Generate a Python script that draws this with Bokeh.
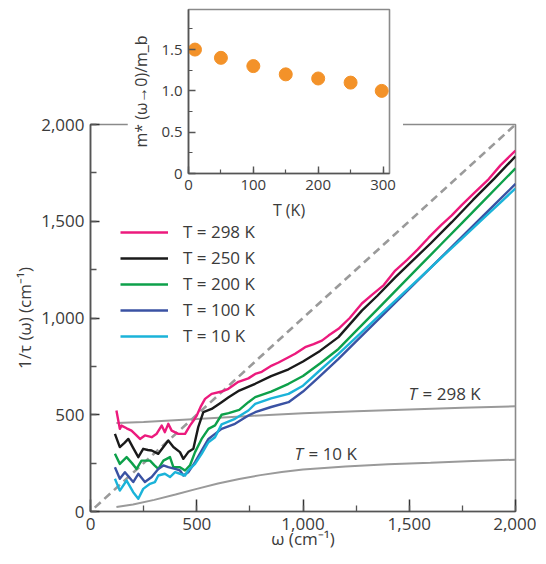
from bokeh.plotting import figure
from bokeh.models import (Legend, LegendItem, Label, SingleIntervalTicker,
                          NumeralTickFormatter, Range1d, FixedTicker, Column)
from bokeh.embed import file_html
from bokeh.resources import INLINE

# ---------------- data ----------------
w298 = [122, 138, 146, 170, 193, 215, 233, 256, 288, 310, 335, 350, 366, 382, 413, 445, 468, 485, 500, 520,
        539, 570, 617, 649, 696, 743, 775, 806, 853, 885, 932, 963, 1010, 1050, 1089, 1120, 1167, 1220, 1277, 1330,
        1380, 1434, 1490, 1540, 1591, 1650, 1700, 1748, 1800, 1874, 1930, 2000]
v298 = [522, 427, 444, 430, 418, 395, 375, 393, 384, 400, 444, 410, 453, 418, 401, 401, 444, 470, 496, 545,
        582, 608, 620, 634, 670, 688, 711, 722, 754, 770, 797, 815, 849, 865, 883, 909, 944, 1000, 1075, 1125,
        1170, 1245, 1300, 1355, 1415, 1480, 1530, 1585, 1640, 1718, 1790, 1865]

w250 = [115, 138, 160, 178, 200, 225, 248, 270, 288, 319, 343, 366, 390, 421, 437, 460, 484, 507, 531, 570,
        617, 650, 700, 775, 850, 932, 1000, 1080, 1167, 1277, 1350, 1434, 1500, 1600, 1700, 1800, 1900, 2000]
v250 = [401, 333, 355, 375, 330, 281, 324, 318, 315, 298, 333, 367, 333, 307, 272, 307, 324, 436, 513, 530,
        565, 590, 625, 660, 700, 735, 775, 830, 901, 1038, 1115, 1210, 1280, 1385, 1495, 1610, 1720, 1836]

w200 = [115, 138, 170, 195, 217, 240, 280, 300, 319, 343, 374, 390, 421, 445, 468, 492, 523, 555, 586, 617,
        650, 700, 743, 775, 850, 932, 1000, 1080, 1167, 1250, 1350, 1450, 1550, 1650, 1750, 1850, 1930, 2000]
v200 = [298, 246, 281, 250, 220, 263, 263, 240, 220, 263, 281, 229, 229, 212, 238, 307, 375, 427, 445, 500,
        508, 525, 565, 591, 620, 660, 700, 765, 840, 933, 1045, 1157, 1269, 1381, 1493, 1605, 1695, 1774]

w100 = [115, 138, 162, 201, 225, 256, 288, 319, 343, 366, 398, 421, 437, 460, 492, 523, 555, 586, 617, 680,
        743, 775, 850, 932, 1000, 1080, 1167, 1250, 1350, 1450, 1550, 1650, 1750, 1850, 1930, 2000]
v100 = [229, 169, 203, 152, 195, 152, 178, 220, 238, 229, 220, 212, 186, 203, 255, 315, 375, 401, 427, 453,
        496, 513, 540, 565, 620, 700, 789, 879, 988, 1096, 1205, 1313, 1422, 1530, 1617, 1693]

w10 = [115, 138, 170, 201, 225, 248, 280, 303, 319, 350, 374, 398, 421, 445, 460, 492, 523, 555, 586, 617,
       680, 743, 775, 850, 932, 1000, 1080, 1167, 1250, 1350, 1450, 1550, 1650, 1750, 1850, 1930, 2000]
v10 = [169, 108, 160, 100, 66, 117, 143, 152, 186, 195, 178, 203, 195, 186, 212, 246, 298, 358, 384, 450,
       479, 522, 556, 585, 608, 650, 730, 815, 900, 1003, 1105, 1208, 1311, 1413, 1516, 1598, 1670]

# model curves
wm298 = [122, 250, 500, 750, 1000, 1250, 1500, 1750, 2000]
vm298 = [458, 463, 478, 494, 508, 518, 527, 536, 544]
wm10 = [122, 200, 300, 400, 500, 600, 700, 800, 900, 1000, 1200, 1400, 1600, 1800, 2000]
vm10 = [23, 36, 60, 88, 117, 145, 168, 188, 204, 217, 233, 244, 252, 261, 268]

# dashed y = x reference
wdash = [20, 2000]
vdash = [20, 2000]

series_labels = ["T = 298 K", "T = 250 K", "T = 200 K", "T = 100 K", "T = 10 K"]
series_colors = ["#ec1a7d", "#1a1a1a", "#0da04a", "#3a52a3", "#1bb3d9"]

# inset data
T_inset = [10, 50, 100, 150, 200, 250, 298]
m_inset = [1.5, 1.4, 1.3, 1.2, 1.15, 1.1, 1.0]

FONT = "Open Sans"
TXT = "#3b3b3b"
AX = "#555555"
OUT = "#8a8a8a"

# ---------------- main figure ----------------
p = figure(frame_width=425, frame_height=387, x_range=Range1d(0, 2000), y_range=Range1d(0, 2000),
           output_backend="svg", toolbar_location=None, frame_align=False,
           min_border_left=90, min_border_right=21, min_border_top=124, min_border_bottom=43)
p.grid.visible = False
p.outline_line_color = OUT
p.outline_line_width = 1.6
p.background_fill_color = "white"
p.border_fill_color = "white"

for ax in (p.xaxis[0], p.yaxis[0]):
    ax.ticker = SingleIntervalTicker(interval=500, num_minor_ticks=2)
    ax.formatter = NumeralTickFormatter(format="0,0")
    ax.axis_line_color = AX
    ax.axis_line_width = 1.6
    ax.major_tick_line_color = "#333333"
    ax.minor_tick_line_color = AX
    ax.major_tick_line_width = 1.5
    ax.minor_tick_line_width = 1.3
    ax.major_tick_out = 0
    ax.minor_tick_out = 0
    ax.major_label_text_font = FONT
    ax.major_label_text_font_size = "17px"
    ax.major_label_text_color = TXT
    ax.axis_label_text_font = FONT
    ax.axis_label_text_font_size = "17px"
    ax.axis_label_text_color = TXT
    ax.axis_label_text_font_style = "normal"
    ax.major_label_standoff = 6

p.xaxis.major_tick_in = 12
p.xaxis.minor_tick_in = 6
p.yaxis.major_tick_in = 9
p.yaxis.minor_tick_in = 6
p.xaxis.axis_label = "ω (cm⁻¹)"
p.yaxis.axis_label = "1/τ (ω) (cm⁻¹)"
p.xaxis.axis_label_standoff = -6
p.yaxis.axis_label_standoff = 2

# model curves & dashed line
p.line(wm298, vm298, line_color="#9a9a9a", line_width=2)
p.line(wm10, vm10, line_color="#9a9a9a", line_width=2)
p.line(wdash, vdash, line_color="#9a9a9a", line_width=2.6, line_dash="8 5")

renderers = []
for wx, vy, col in zip([w298, w250, w200, w100, w10], [v298, v250, v200, v100, v10], series_colors):
    r = p.line(wx, vy, line_color=col, line_width=2.4, line_join="round")
    renderers.append(r)

legend = Legend(items=[LegendItem(label=lab, renderers=[r]) for lab, r in zip(series_labels, renderers)],
                location=(25, 159), glyph_width=48, glyph_height=20, label_height=20, spacing=3,
                padding=5, label_standoff=15, label_text_font=FONT, label_text_font_size="17px",
                label_text_color=TXT, background_fill_alpha=0, border_line_alpha=0, margin=0)
p.add_layout(legend)

for (lx, ly, rest) in [(1497, 611, "= 298 K"), (960, 298, "= 10 K")]:
    p.add_layout(Label(x=lx, y=ly, text="T", text_font=FONT, text_font_size="17px",
                       text_font_style="italic", text_color=TXT, text_baseline="middle"))
    p.add_layout(Label(x=lx, y=ly, x_offset=14, text=rest, text_font=FONT, text_font_size="17px",
                       text_color=TXT, text_baseline="middle"))

# ---------------- inset ----------------
ins = figure(frame_width=201, frame_height=164, x_range=Range1d(0, 310), y_range=Range1d(0, 1.985),
             output_backend="svg", toolbar_location=None, frame_align=False,
             min_border_left=57, min_border_right=14, min_border_top=3, min_border_bottom=48)
ins.grid.visible = False
ins.outline_line_color = OUT
ins.outline_line_width = 1.6
ins.border_fill_color = "white"
ins.background_fill_color = "white"
ins.margin = (-548, 0, 0, 127)

ins.xaxis.ticker = SingleIntervalTicker(interval=100, num_minor_ticks=2)
ins.yaxis.ticker = FixedTicker(ticks=[0, 0.5, 1.0, 1.5], minor_ticks=[0.25, 0.75, 1.25, 1.75])
ins.yaxis.major_label_overrides = {0: "0", 0.5: "0.5", 1: "1.0", 1.5: "1.5"}
for ax in (ins.xaxis[0], ins.yaxis[0]):
    ax.axis_line_color = AX
    ax.axis_line_width = 1.6
    ax.major_tick_line_color = AX
    ax.minor_tick_line_color = AX
    ax.major_tick_line_width = 1.4
    ax.minor_tick_line_width = 1.2
    ax.major_tick_out = 0
    ax.minor_tick_out = 0
    ax.major_tick_in = 7
    ax.minor_tick_in = 4
    ax.major_label_text_font = FONT
    ax.major_label_text_font_size = "15px"
    ax.major_label_text_color = TXT
    ax.axis_label_text_font = FONT
    ax.axis_label_text_font_size = "16px"
    ax.axis_label_text_color = TXT
    ax.axis_label_text_font_style = "normal"
    ax.major_label_standoff = 6
ins.xaxis.axis_label = "T (K)"
ins.yaxis.axis_label = "m* (ω→0)/m_b"
ins.xaxis.axis_label_standoff = 6
ins.yaxis.axis_label_standoff = 6

ins.scatter(T_inset, m_inset, size=13, fill_color="#f39229", line_color="#f39229")

layout = Column(children=[p, ins], spacing=0)
open("out.html", "w").write(file_html(layout, INLINE))
